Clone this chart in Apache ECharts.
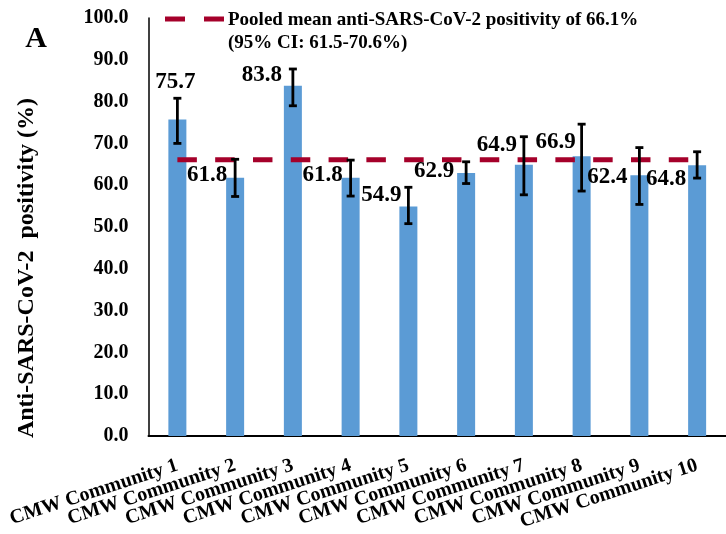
<!DOCTYPE html>
<html>
<head>
<meta charset="utf-8">
<script src="https://cdn.jsdelivr.net/npm/echarts@6/dist/echarts.min.js"></script>
<style>
html,body{margin:0;padding:0;background:#fff;}
#chart{width:726px;height:534px;}
</style>
</head>
<body>
<div id="chart"></div>
<script>
// ---- data ----
const categories = ['CMW Community 1','CMW Community 2','CMW Community 3','CMW Community 4','CMW Community 5','CMW Community 6','CMW Community 7','CMW Community 8','CMW Community 9','CMW Community 10'];
const positivity = [75.7, 61.8, 83.8, 61.8, 54.9, 62.9, 64.9, 66.9, 62.4, 64.8];
const ciLow  = [70.0, 57.3, 79.0, 57.4, 50.8, 60.4, 57.7, 58.6, 55.4, 61.7];
const ciHigh = [80.8, 66.2, 87.8, 66.0, 59.5, 65.6, 71.6, 74.6, 69.0, 68.0];
const pooledMean = 66.1;
const pooledLabel = ['Pooled mean anti-SARS-CoV-2 positivity of 66.1%', '(95% CI: 61.5-70.6%)'];
const yTicks = [0,10,20,30,40,50,60,70,80,90,100];
const yTitle = 'Anti-SARS-CoV-2  positivity (%)';
const panelLetter = 'A';

// ---- layout (label placement, pixels) ----
const labelOffsets = [[-2,-38],[-28,-3],[-31,-11],[-28,-3],[-27,-11],[-32,-2],[-27,-20],[-26,-14],[-32,2],[-31,14]];

const FONT = "'Liberation Serif','Times New Roman',serif";
const chart = echarts.init(document.getElementById('chart'), null, {renderer:'canvas'});

const option = {
  animation: false,
  backgroundColor: '#fff',
  grid: { left: 148.5, top: 18, width: 587, bottom: 98, containLabel: false },
  xAxis: {
    type: 'category',
    data: categories,
    axisLine: { show: true, lineStyle: { color: '#000', width: 2 } },
    axisTick: { show: false },
    axisLabel: {
      interval: 0, rotate: 18, margin: 29,
      color: '#000', fontFamily: FONT, fontWeight: 'bold', fontSize: 20
    }
  },
  yAxis: {
    type: 'value',
    min: yTicks[0], max: yTicks[yTicks.length-1], interval: 10,
    axisLine: { show: true, lineStyle: { color: '#000', width: 1.5 } },
    axisTick: { show: false },
    splitLine: { show: false },
    axisLabel: {
      margin: 20, color: '#000', fontFamily: FONT, fontWeight: 'bold', fontSize: 20,
      formatter: v => v.toFixed(1)
    }
  },
  series: [
    {
      type: 'bar',
      data: positivity,
      barWidth: 18,
      itemStyle: { color: '#5B9BD5' },
      z: 2
    },
    {
      type: 'line',
      data: categories.map(() => pooledMean),
      symbol: 'none',
      lineStyle: { color: '#A5002A', width: 5, type: [19.5, 18.3], cap: 'butt' },
      z: 3
    },
    {
      type: 'custom',
      data: categories.map((c, i) => [i, ciLow[i], ciHigh[i]]),
      encode: { x: 0, y: [1, 2] },
      z: 4,
      renderItem: function (params, api) {
        const x = api.value(0);
        const top = api.coord([x, api.value(2)]);
        const bot = api.coord([x, api.value(1)]);
        const hw = 4;
        const st = { stroke: '#000', lineWidth: 2.8 };
        return {
          type: 'group',
          children: [
            { type: 'line', shape: { x1: top[0], y1: top[1], x2: bot[0], y2: bot[1] }, style: st },
            { type: 'line', shape: { x1: top[0]-hw, y1: top[1], x2: top[0]+hw, y2: top[1] }, style: st },
            { type: 'line', shape: { x1: bot[0]-hw, y1: bot[1], x2: bot[0]+hw, y2: bot[1] }, style: st }
          ]
        };
      }
    },
    {
      type: 'custom',
      z: 5,
      data: positivity.map((v, i) => [i, v]),
      encode: { x: 0, y: 1 },
      renderItem: function (params, api) {
        const i = params.dataIndex;
        const p = api.coord([api.value(0), api.value(1)]);
        const off = labelOffsets[i];
        return {
          type: 'text',
          x: p[0] + off[0],
          y: p[1] + off[1],
          style: {
            text: api.value(1).toFixed(1),
            fill: '#000',
            font: 'bold 23px ' + FONT,
            align: 'center', verticalAlign: 'middle'
          }
        };
      }
    }
  ],
  graphic: [
    { type: 'line', shape: { x1: 165, y1: 19, x2: 185, y2: 19 }, style: { stroke: '#A5002A', lineWidth: 5 } },
    { type: 'line', shape: { x1: 204, y1: 19, x2: 224, y2: 19 }, style: { stroke: '#A5002A', lineWidth: 5 } },
    { type: 'text', x: 228, y: 20, style: { text: pooledLabel[0], fill: '#000', font: 'bold 19px ' + FONT, verticalAlign: 'middle', textVerticalAlign: 'middle' } },
    { type: 'text', x: 228, y: 43, style: { text: pooledLabel[1], fill: '#000', font: 'bold 19px ' + FONT, verticalAlign: 'middle', textVerticalAlign: 'middle' } },
    { type: 'text', x: 36, y: 39, style: { text: panelLetter, fill: '#000', font: 'bold 30px ' + FONT, align: 'center', textAlign: 'center', verticalAlign: 'middle', textVerticalAlign: 'middle' } },
    { type: 'text', x: 27, y: 268, rotation: Math.PI / 2, style: { text: yTitle, fill: '#000', font: 'bold 24px ' + FONT, align: 'center', textAlign: 'center', verticalAlign: 'middle', textVerticalAlign: 'middle' } }
  ]
};
chart.setOption(option);
</script>
</body>
</html>
